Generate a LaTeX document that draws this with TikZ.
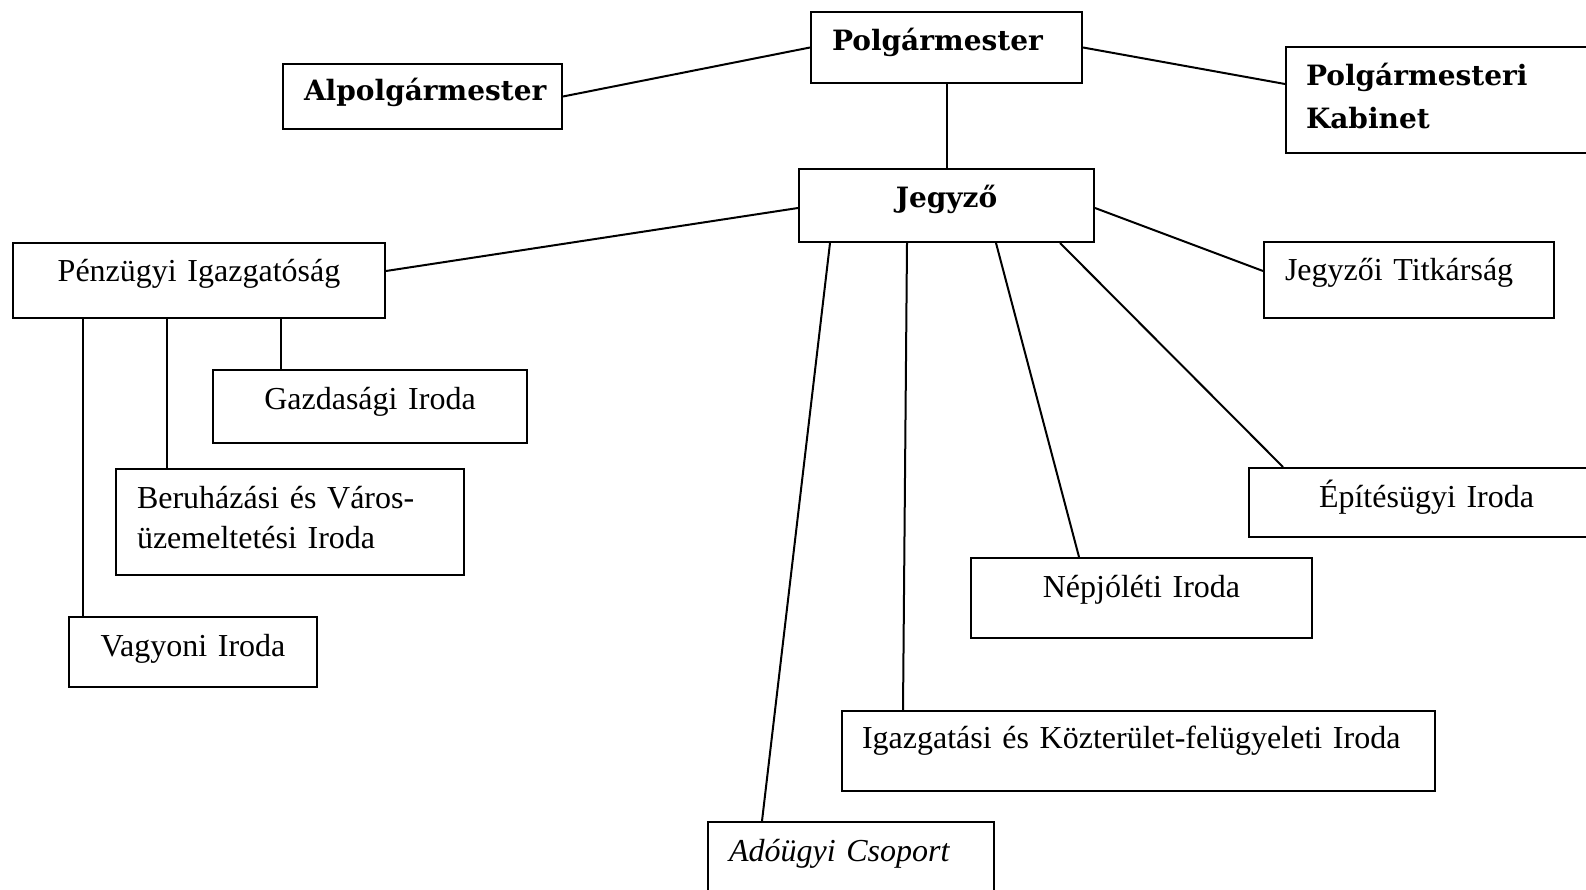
\documentclass[tikz,border=0pt]{standalone}
\usepackage{fontspec}
\setmainfont{Liberation Serif}
\newfontfamily\headfont{DejaVu Serif}
\newcommand\officefont{\fontsize{32}{40}\selectfont\spaceskip=5.5pt plus 1pt\relax}
\usetikzlibrary{positioning}
\tikzset{
x=1pt, y=-1pt, % one unit is one pixel of the scan, y runs downwards
every node/.style={anchor=north west, inner ysep=0pt, text height=39pt}, % boxes are placed by their top left corner
unit/.style={draw, inner xsep=0pt, align=center, font=\officefont}, % an office
head/.style={unit, font=\fontsize{28}{43}\headfont\bfseries}, % the leaders
inset/.style={align=left, inner xsep=21pt}, % text starts near the left side
}
\begin{document}
\begin{tikzpicture}[line width=2pt]
    \clip (0,0) rectangle (1586,890);
    \node[head, inset, text width=229pt, text depth=32pt] (pol) at (810,11) {Polgármester};
    \node[head, inset, text width=237pt, text depth=28pt, text height=37pt] (alp) at (282,63) {Alpolgármester};
    \node[head, inset, text width=360pt, text depth=67pt, inner xsep=20pt] (kab) at (1285,46) {Polgármesteri\\Kabinet};
    \node[head, text width=295pt, text depth=34pt] (jeg) at (798,168) {Jegyző};
    \node[unit, text width=372pt, text depth=36pt] (pen) at (12,242) {Pénzügyi Igazgatóság};
    \node[unit, inset, text width=248pt, text depth=37pt] (tit) at (1263,241) {Jegyzői Titkárság};
    \node[unit, text width=314pt, text depth=34pt] (gaz) at (212,369) {Gazdasági Iroda};
    \node[unit, inset, text width=306pt, text depth=67pt] (ber) at (115,468) {Beruházási és Város-\\üzemeltetési Iroda};
    \node[unit, text width=248pt, text depth=31pt] (vag) at (68,616) {Vagyoni Iroda};
    \node[unit, inset, text width=300pt, text depth=30pt, inner xsep=70pt] (epi) at (1248,467) {Építésügyi Iroda};
    \node[unit, text width=341pt, text depth=41pt] (nep) at (970,557) {Népjóléti Iroda};
    \node[unit, inset, text width=553pt, text depth=43pt, text height=37pt, inner xsep=20pt] (iga) at (841,710) {Igazgatási és Közterület-felügyeleti Iroda};
    \node[unit, inset, text width=244pt, text depth=90pt, font=\officefont\itshape] (ado) at (707,821) {Adóügyi Csoport};
    \draw
    (pol.west) edge (alp.east)
    (pol.east) edge ([yshift=-38pt]kab.north west)
    (pol.south) edge (jeg.north)
    ([yshift=-40pt]jeg.north west) edge ([yshift=-29pt]pen.north east)
    ([yshift=-40pt]jeg.north east) edge ([yshift=-30pt]tit.north west)
    ([xshift=262pt]jeg.south west) edge ([xshift=35pt]epi.north west)
    ([xshift=198pt]jeg.south west) edge ([xshift=109pt]nep.north west)
    ([xshift=109pt]jeg.south west) edge ([xshift=62pt]iga.north west)
    ([xshift=32pt]jeg.south west) edge ([xshift=55pt]ado.north west)
    ([xshift=269pt]pen.south west) edge ([xshift=69pt]gaz.north west)
    ([xshift=155pt]pen.south west) edge ([xshift=52pt]ber.north west)
    ([xshift=71pt]pen.south west) edge ([xshift=15pt]vag.north west);
\end{tikzpicture}
\end{document}
